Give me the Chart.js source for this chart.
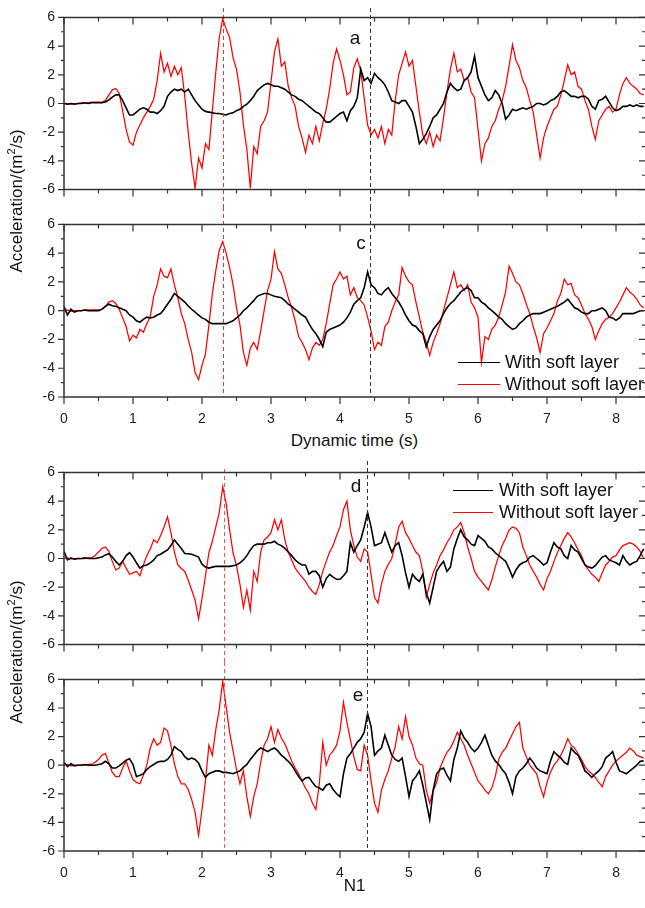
<!DOCTYPE html>
<html>
<head>
<meta charset="utf-8">
<script src="https://cdn.jsdelivr.net/npm/chart.js@4.4.0/dist/chart.umd.min.js"></script>
<style>
  body { margin: 0; background: #fff; width: 645px; height: 908px; overflow: hidden; position: relative;
         font-family: "Liberation Sans", Arial, sans-serif; color: #111; }
  canvas { position: absolute; left: 0; }
  .xt { position: absolute; left: 64px; width: 581px; text-align: center; font-size: 17px; line-height: 18px; }
  .yt { position: absolute; left: -83px; width: 200px; height: 20px; line-height: 20px; text-align: center;
        font-size: 17px; transform: rotate(-90deg); white-space: nowrap; }
  .yt sup { font-size: 11px; line-height: 0; }
</style>
</head>
<body>
<canvas id="pa" width="645" height="207" style="top:0px"></canvas>
<canvas id="pc" width="645" height="223" style="top:207px"></canvas>
<canvas id="pd" width="645" height="207" style="top:455px"></canvas>
<canvas id="pe" width="645" height="223" style="top:662px"></canvas>
<div class="yt" style="top:191px">Acceleration/(m<sup>2</sup>/s)</div>
<div class="yt" style="top:642px">Acceleration/(m<sup>2</sup>/s)</div>
<div class="xt" style="top:432px">Dynamic time (s)</div>
<div class="xt" style="top:877px">N1</div>
<script>
const STEP = 0.05;
const X_MAX = 8.42;
const xTicks = [0, 1, 2, 3, 4, 5, 6, 7, 8];
const yTicks = [-6, -4, -2, 0, 2, 4, 6];

// panel a
const withA = [
  0, -0.05, 0, -0.05, 0, 0, 0.05, 0, 0.05, 0.05,
  0.05, 0.05, 0.1, 0.25, 0.45, 0.6, 0.6, 0.2, -0.3, -0.8,
  -0.8, -0.6, -0.4, -0.3, -0.4, -0.6, -0.6, -0.7, -0.5, -0.2,
  0.5, 0.8, 1.0, 0.9, 1.0, 0.8, 1.0, 0.6, 0.2, -0.1,
  -0.4, -0.55, -0.6, -0.65, -0.7, -0.7, -0.75, -0.8, -0.7, -0.65,
  -0.5, -0.4, -0.2, -0.05, 0.2, 0.5, 0.9, 1.1, 1.3, 1.4,
  1.3, 1.2, 1.2, 1.1, 1.0, 0.8, 0.6, 0.5, 0.3, 0.2,
  0.0, -0.2, -0.4, -0.6, -0.7, -1.0, -1.3, -1.3, -1.1, -0.9,
  -0.7, -0.6, -1.2, -0.5, -0.2, 0.4, 2.4, 1.6, 1.8, 1.4,
  2.1, 1.8, 1.6, 1.3, 0.8, 0.2, 0.1, 0.0, 0.2, 0.2,
  -0.2, -0.6, -1.6, -2.8, -2.5, -2.1, -1.6, -1.0, -0.8, -0.4,
  0.0, 0.8, 1.4, 1.1, 0.9, 1.0, 1.6, 1.8, 2.2, 3.3,
  1.8, 1.2, 0.6, 0.2, 0.4, 0.9, 0.6, 0.0, -1.1, -0.8,
  -0.4, -0.5, -0.4, -0.3, -0.4, -0.3, -0.2, 0.0, 0.0, -0.1,
  0.0, 0.2, 0.3, 0.5, 0.8, 0.9, 0.7, 0.5, 0.5, 0.4,
  0.5, 0.5, 0.3, -0.2, -0.4, 0.2, 0.3, 0.5, 0.1, -0.3,
  -0.5, -0.4, -0.2, -0.2, -0.1, -0.2, -0.1, -0.2, -0.2
];
const withoutA = [
  0, 0, -0.05, 0, 0, 0.05, 0.05, 0.05, 0.1, 0.1,
  0.1, 0.1, 0.2, 0.6, 0.95, 1.05, 0.7, -0.5, -1.8, -2.7,
  -2.9, -2.0, -1.5, -1.0, -0.6, -0.2, 0.3, 1.6, 3.5, 2.2,
  2.8, 1.9, 2.6, 2.0, 2.5, 0.5, -2.0, -4.2, -5.9, -3.8,
  -4.5, -2.8, -3.2, -0.5, 2.2, 4.6, 5.9, 5.2, 4.6, 3.2,
  2.4, 0.8, -1.5, -3.2, -5.9, -3.0, -3.5, -1.6, -1.2, -0.6,
  1.5, 3.6, 4.5, 2.6, 2.9, 1.2, 0.4, -0.2, -1.6, -2.4,
  -3.4, -2.2, -2.8, -1.6, -2.6, -1.4, -0.4, 1.0, 2.8, 3.8,
  3.0, 2.0, 0.6, 0.8, 2.5, 3.1, 2.3, 0.4, -1.5, -2.2,
  -1.8, -2.4, -1.6, -2.8, -1.8, -2.2, 0.2, 2.0, 2.8, 3.6,
  2.6, 3.0, 1.2, -0.6, -2.2, -2.8, -2.0, -3.0, -2.2, -2.6,
  -1.0, 0.8, 2.4, 3.5, 2.2, 2.4, 1.6, 1.8, 0.8, 0.4,
  -1.8, -4.0, -2.8, -2.4, -1.6, -1.2, -0.4, 0.2, 1.2, 2.6,
  4.1, 3.0, 2.5, 1.6, 1.1, 0.2, -0.6, -2.2, -3.8, -2.4,
  -1.6, -1.0, -0.4, -0.2, 0.6, 1.6, 2.7, 2.0, 2.2, 1.2,
  1.0, 0.2, -0.4, -1.6, -2.5, -1.2, -0.8, -0.4, -0.2, -0.6,
  -0.4, 0.6, 1.4, 1.8, 1.4, 1.2, 1.0, 0.7, 0.6
];

// panel c
const withC = [
  0.3, -0.3, 0.1, -0.1, 0, 0, 0.05, 0, 0, 0,
  0, 0.1, 0.3, 0.45, 0.35, 0.3, 0.2, 0.1, 0, -0.3,
  -0.45, -0.7, -0.8, -0.6, -0.45, -0.5, -0.45, -0.3, -0.2, 0.1,
  0.45, 0.8, 1.2, 1.0, 0.8, 0.6, 0.33, 0.1, -0.1, -0.3,
  -0.5, -0.6, -0.8, -0.9, -0.9, -0.9, -0.9, -0.9, -0.8, -0.7,
  -0.5, -0.3, 0.0, 0.2, 0.45, 0.7, 1.0, 1.1, 1.2, 1.2,
  1.1, 1.0, 0.95, 0.9, 0.7, 0.45, 0.3, 0.1, -0.1, -0.3,
  -0.45, -0.9, -1.3, -1.6, -2.0, -2.5, -1.5, -1.3, -1.2, -1.1,
  -1.0, -0.8, -0.5, -0.1, 0.45, 0.7, 0.9, 1.6, 2.7, 1.8,
  1.6, 1.2, 1.1, 1.4, 1.6, 1.2, 0.9, 0.6, 0.2, -0.3,
  -0.7, -1.0, -1.1, -1.4, -1.6, -2.5, -1.8, -1.3, -1.0, -0.7,
  -0.2, 0.2, 0.5, 0.7, 1.0, 1.3, 1.5, 1.6, 1.4, 0.9,
  0.9, 0.6, 0.45, 0.2, 0.0, -0.2, -0.45, -0.6, -0.9, -1.1,
  -1.3, -1.2, -0.9, -0.7, -0.45, -0.3, -0.2, -0.2, -0.2, -0.1,
  0, 0.1, 0.2, 0.3, 0.45, 0.6, 0.8, 0.5, 0.2, 0.1,
  -0.1, -0.2, -0.2, 0, 0, 0.1, 0.2, 0, -0.45, -0.5,
  -0.67, -0.5, -0.2, -0.2, -0.2, -0.2, -0.1, 0, 0
];
const withoutC = [
  0, 0.05, -0.05, 0, 0, 0, 0.05, 0.05, 0.05, 0.05,
  0.05, 0.1, 0.3, 0.6, 0.7, 0.5, 0.1, -0.5, -1.1, -2.1,
  -1.7, -1.9, -1.3, -1.5, -0.9, -0.4, 1.0, 1.8, 2.9, 2.4,
  2.3, 2.9, 1.8, 0.9, -0.2, -0.9, -2.0, -2.9, -4.3, -4.8,
  -3.8, -3.0, -1.0, 1.2, 2.8, 4.2, 4.8, 4.0, 3.0, 1.8,
  0.2, -1.0, -2.9, -3.8, -2.6, -2.2, -2.7, -1.4, 0.0, 1.4,
  2.2, 4.1, 2.9, 2.6, 1.8, 0.9, 0.2, -0.7, -1.8, -2.2,
  -2.7, -3.4, -2.6, -2.2, -2.4, -2.0, -0.9, 0.45, 1.8, 2.2,
  2.7, 2.2, 2.4, 1.1, 1.6, 0.9, 0.7, 0.4, -0.45, -1.4,
  -2.7, -2.2, -2.4, -1.1, -0.8, 0.0, 0.6, 1.1, 3.0, 2.4,
  2.0, 1.8, 0.6, -0.45, -1.5, -2.2, -3.1, -2.2, -1.6, -0.9,
  0.0, 0.9, 1.8, 2.7, 1.6, 1.8, 1.4, 1.8, 0.6, 0.2,
  -0.45, -3.6, -1.8, -2.0, -1.3, -1.0, -0.45, 0.4, 1.3, 3.1,
  2.6, 2.0, 1.8, 1.2, 0.45, -0.2, -1.1, -1.9, -2.9, -1.6,
  -1.2, -0.7, -0.2, 0.67, 1.2, 2.2, 1.8, 1.9, 1.1, 0.9,
  0.4, -0.2, -0.6, -1.1, -2.0, -1.4, -0.9, -0.6, -0.45, -0.2,
  0.2, 0.6, 1.1, 1.6, 1.3, 1.1, 0.8, 0.4, 0.2
];

// panel d
const withD = [
  0.5, -0.1, 0.05, -0.05, 0, 0, 0.05, 0, 0, 0,
  0.05, 0.1, 0.25, 0.33, 0.1, -0.2, -0.45, -0.2, 0.2, 0.4,
  0.1, -0.3, -0.67, -0.5, -0.45, -0.3, -0.1, 0.2, 0.3, 0.45,
  0.6, 0.9, 1.3, 1.0, 0.7, 0.35, 0.33, 0.3, 0.2, 0.1,
  -0.4, -0.6, -0.67, -0.6, -0.55, -0.55, -0.55, -0.55, -0.55, -0.5,
  -0.45, -0.3, -0.1, 0.2, 0.6, 0.9, 1.0, 1.0, 1.0, 1.1,
  1.1, 1.2, 1.0, 0.9, 0.7, 0.45, 0.2, -0.1, -0.3, -0.45,
  -0.45, -1.1, -0.9, -0.9, -1.2, -2.0, -1.4, -1.1, -1.3, -1.45,
  -1.45, -1.2, -0.9, 1.1, 0.45, 0.9, 1.3, 2.2, 3.2, 2.2,
  0.9, 1.0, 1.1, 1.8, 1.1, 0.45, 0.9, 1.1, 0.2, -1.0,
  -2.0, -1.1, -1.4, -1.6, -1.1, -2.4, -3.1, -2.0, -0.9, -0.5,
  -0.2, -0.9, -0.6, 0.67, 1.4, 2.0, 1.5, 1.3, 1.0, 0.9,
  1.6, 1.4, 1.2, 0.8, 0.67, 0.4, 0.2, 0, -0.2, -0.7,
  -1.3, -0.8, -0.45, -0.3, -0.2, 0.1, 0.2, 0.0, -0.2, -0.45,
  -0.3, 0.45, 1.1, 0.8, 0.67, 0.2, 0.0, 0.9, 0.6, 0.45,
  0.0, -0.45, -0.6, -0.67, -0.5, -0.2, 0.1, 0.2, -0.1, -0.2,
  -0.3, -0.45, 0.2, -0.2, -0.45, -0.3, -0.2, 0.2, 0.67
];
const withoutD = [
  0, 0.05, -0.05, 0, 0, 0, 0, 0.05, 0.05, 0.2,
  0.45, 0.7, 0.8, 0.5, -0.2, -0.8, -0.67, -0.2, -0.67, -1.1,
  -1.0, -0.9, -1.2, -0.45, 0.2, 0.67, 1.3, 1.1, 1.6, 2.2,
  2.9, 1.8, 0.45, -0.45, -0.7, -0.9, -1.5, -2.2, -2.9, -4.2,
  -2.8, -1.2, 0.4, 1.2, 2.2, 3.2, 5.0, 3.8, 2.0, 0.4,
  -0.5, -1.8, -3.4, -2.2, -3.6, -0.9, -1.6, 0.45, 1.3, 1.5,
  1.8, 2.7, 2.0, 2.7, 1.3, 0.45, -0.1, -0.67, -1.0, -1.3,
  -1.6, -2.0, -2.3, -2.5, -1.8, -0.9, -0.2, 0.45, 0.9, 1.6,
  2.2, 3.4, 4.0, 2.0, 0.9, 0.1, -0.2, 0.67, 0.45, -1.1,
  -2.7, -3.1, -1.8, -0.9, -0.4, 0.0, 1.0, 2.2, 2.6, 1.8,
  1.4, 0.9, 0.45, 0.2, -0.9, -2.7, -1.8, -1.0, -0.45, 0.2,
  0.6, 1.1, 1.5, 2.0, 2.2, 2.5, 1.8, 0.8, 0.0, -0.9,
  -1.3, -1.6, -1.9, -2.2, -1.5, -0.6, 0.2, 0.9, 1.4, 2.0,
  2.2, 2.1, 1.8, 0.8, 0.2, -0.45, -0.9, -1.3, -1.8, -2.2,
  -1.4, -0.9, -0.2, 0.4, 0.9, 1.4, 1.8, 1.5, 1.1, 0.6,
  0.2, -0.45, -0.8, -1.1, -1.3, -1.6, -1.0, -0.45, -0.2, 0.1,
  0.2, 0.6, 0.9, 1.0, 1.1, 1.0, 0.8, 0.5, 0.0
];

// panel e
const withE = [
  0.2, -0.1, 0.1, -0.05, 0, 0, 0.05, 0, 0, 0,
  0.05, 0.1, 0.27, 0.1, -0.2, -0.2, -0.05, 0.15, 0.35, 0.45,
  0.05, -0.8, -0.7, -0.6, -0.3, -0.1, 0.05, 0.2, 0.27, 0.27,
  0.4, 0.7, 1.3, 1.1, 0.95, 0.6, 0.4, 0.5, 0.4, 0.15,
  -0.4, -0.85, -0.6, -0.5, -0.4, -0.4, -0.5, -0.5, -0.55, -0.6,
  -0.5, -0.4, -0.15, 0.05, 0.4, 0.7, 1.0, 1.2, 1.1, 0.95,
  1.1, 1.2, 1.0, 0.7, 0.5, 0.27, 0.0, -0.4, -0.8, -1.1,
  -0.9, -0.85, -1.2, -1.5, -1.6, -1.75, -1.4, -1.3, -1.7, -2.0,
  -2.2, -0.6, 0.5, 0.8, 1.2, 1.6, 1.85, 2.3, 3.6, 2.7,
  0.7, 1.0, 1.2, 2.1, 1.4, 0.7, 0.4, 0.27, 0.5, -0.8,
  -2.2, -1.1, -0.8, -0.4, -1.4, -2.6, -3.8, -1.75, -0.6, -0.3,
  -0.2, -0.7, -1.1, 0.4, 1.2, 2.4, 1.9, 1.6, 1.2, 0.95,
  1.2, 1.6, 2.1, 1.4, 0.7, 0.3, 0.05, -0.3, -0.6, -1.2,
  -2.0, -0.8, -0.4, -0.2, 0.1, 0.5, 0.2, -0.2, -0.4, -0.5,
  -0.6, 0.3, 0.95, 0.7, 0.5, 0.2, 0.05, 1.2, 0.9, 0.7,
  0.2, -0.4, -0.6, -0.85, -0.6, -0.4, -0.1, 0.5, 0.7, 0.95,
  0.2, -0.4, -0.5, -0.6, -0.4, -0.2, 0.0, 0.27, 0.3
];
const withoutE = [
  0, 0.05, -0.05, 0, 0, 0, 0, 0.05, 0.05, 0.2,
  0.4, 0.7, 0.83, 0.15, -0.5, -0.8, -0.8, -0.2, 0.3, -0.4,
  -1.0, -1.2, -1.3, -0.7, 0.0, 1.2, 1.85, 1.4, 1.6, 2.6,
  2.4, 1.4, 0.1, -0.8, -1.3, -1.3, -1.7, -2.4, -3.3, -4.9,
  -3.1, -1.1, 1.4, 0.7, 2.5, 3.9, 5.9, 4.1, 2.3, 1.0,
  -0.3, -1.3, -0.4, -2.2, -3.6, -2.2, -1.3, 0.2, 1.4, 1.85,
  2.7, 1.6, 2.5, 1.9, 1.5, 0.9, 0.3, -0.2, -0.6, -1.1,
  -1.6, -2.0, -2.65, -3.1, -1.3, 1.6, 0.0, 0.7, 1.0, 1.4,
  2.4, 4.4, 3.0, 1.8, 0.6, -0.3, -0.4, 1.4, 0.7, -1.1,
  -2.65, -3.3, -1.75, -1.0, -0.4, 0.5, 1.3, 2.7, 1.85, 3.4,
  2.0, 1.4, 0.5, 0.1, 0.0, -1.75, -2.65, -1.8, -1.2, -0.2,
  0.4, 0.9, 1.2, 1.7, 2.3, 1.85, 1.4, 0.7, 0.1, -0.5,
  -1.1, -1.4, -1.75, -2.0, -1.6, -0.8, 0.4, 0.9, 1.2, 1.7,
  2.2, 2.7, 3.0, 1.2, 0.6, 0.0, -0.3, -0.6, -1.5, -2.2,
  -1.2, -0.5, 0.0, 0.3, 0.7, 1.2, 1.85, 1.4, 1.2, 0.8,
  0.4, -0.1, -0.4, -0.6, -0.85, -1.2, -1.5, -0.8, -0.4, 0.0,
  0.3, 0.5, 0.7, 0.9, 1.2, 1.0, 0.7, 0.6, 0.5
];

const FRAME = '#333';
const RED = '#ff0000';
const tickFont = { family: '"Liberation Sans", Arial, sans-serif', size: 14 };

const toPoints = (vals) => vals.map((v, i) => ({ x: +(i * STEP).toFixed(2), y: v }));

function makePanel(id, withVals, withoutVals, o) {
  const decor = {
    id: 'decor',
    afterDatasetsDraw(chart) {
      const { ctx, chartArea: a, scales: { x, y } } = chart;
      ctx.save();
      // dashed markers
      ctx.lineWidth = 1;
      ctx.setLineDash([4, 3]);
      o.marks.forEach((m) => {
        const px = Math.round(x.getPixelForValue(m.t)) + 0.5;
        ctx.strokeStyle = m.color;
        ctx.beginPath();
        ctx.moveTo(px, m.from);
        ctx.lineTo(px, m.to === 'bottom' ? a.bottom : chart.height);
        ctx.stroke();
      });
      ctx.setLineDash([]);

      // frame
      ctx.strokeStyle = FRAME;
      ctx.lineWidth = 1.5;
      ctx.beginPath();
      ctx.moveTo(a.right + 2, a.top);
      ctx.lineTo(a.left, a.top);
      ctx.lineTo(a.left, a.bottom);
      ctx.lineTo(a.right + 2, a.bottom);
      ctx.stroke();

      // ticks
      ctx.lineWidth = 1.2;
      ctx.beginPath();
      for (let v = yTicks[0]; v <= yTicks[yTicks.length - 1]; v++) {
        const py = y.getPixelForValue(v);
        const len = v % 2 === 0 ? 6 : 3;
        ctx.moveTo(a.left - len, py); ctx.lineTo(a.left, py);
        ctx.moveTo(a.right, py); ctx.lineTo(a.right - len, py);
      }
      for (let v = 0; v <= X_MAX; v += 0.5) {
        const px = x.getPixelForValue(v);
        const len = v % 1 === 0 ? 7 : 4;
        ctx.moveTo(px, a.top); ctx.lineTo(px, a.top + len);
        ctx.moveTo(px, a.bottom); ctx.lineTo(px, a.bottom + len);
      }
      ctx.stroke();

      // panel letter
      ctx.fillStyle = '#111';
      ctx.font = '19px "Liberation Sans", Arial, sans-serif';
      ctx.textAlign = 'center';
      ctx.textBaseline = 'middle';
      ctx.fillText(o.letter, o.letterX, o.letterY);

      // legend
      if (o.legend) {
        const L = o.legend;
        ctx.font = '18px "Liberation Sans", Arial, sans-serif';
        ctx.textAlign = 'left';
        [['With soft layer', '#000', L.y1], ['Without soft layer', RED, L.y2]].forEach(([txt, col, ly]) => {
          ctx.strokeStyle = col;
          ctx.lineWidth = 1.2;
          ctx.beginPath();
          ctx.moveTo(L.x0, ly + 0.5); ctx.lineTo(L.x1, ly + 0.5);
          ctx.stroke();
          ctx.fillStyle = '#111';
          ctx.fillText(txt, L.tx, ly + 1);
        });
      }
      ctx.restore();
    }
  };

  return new Chart(document.getElementById(id), {
    type: 'line',
    data: {
      datasets: [
        { label: 'With soft layer', data: toPoints(withVals), borderColor: '#000', borderWidth: 1.6 },
        { label: 'Without soft layer', data: toPoints(withoutVals), borderColor: RED, borderWidth: 1.25 }
      ]
    },
    options: {
      responsive: false,
      animation: false,
      events: [],
      layout: { padding: { top: o.top, bottom: o.bottom, left: 0, right: 0 } },
      elements: { point: { radius: 0 }, line: { tension: 0 } },
      plugins: { legend: { display: false }, tooltip: { enabled: false } },
      scales: {
        x: {
          type: 'linear', min: 0, max: X_MAX,
          display: o.xLabels,
          grid: { display: false, drawTicks: false },
          border: { display: false },
          ticks: { font: tickFont, color: '#222', padding: 14, maxRotation: 0 },
          afterBuildTicks: (s) => { s.ticks = xTicks.map((v) => ({ value: v })); },
          afterFit: (s) => { s.height = o.axisH || 0; }
        },
        y: {
          min: -6, max: 6,
          grid: { display: false, drawTicks: false },
          border: { display: false },
          ticks: { font: tickFont, color: '#222', padding: 9 },
          afterBuildTicks: (s) => { s.ticks = yTicks.map((v) => ({ value: v })); },
          afterFit: (s) => { s.width = 64; }
        }
      }
    },
    plugins: [decor]
  });
}

makePanel('pa', withA, withoutA, {
  top: 14, bottom: 14, xLabels: false,
  letter: 'a', letterX: 355, letterY: 39,
  marks: [{ t: 2.30, color: '#e33', from: 8 }, { t: 4.44, color: '#333', from: 8 }]
});
makePanel('pc', withC, withoutC, {
  top: 11, bottom: 0, xLabels: true, axisH: 33,
  letter: 'c', letterX: 361, letterY: 37,
  marks: [{ t: 2.30, color: '#e33', from: 0, to: 'bottom' }, { t: 4.44, color: '#333', from: 0, to: 'bottom' }],
  legend: { x0: 458, x1: 500, tx: 505, y1: 155, y2: 177 }
});
makePanel('pd', withD, withoutD, {
  top: 13, bottom: 15, xLabels: false,
  letter: 'd', letterX: 356, letterY: 32,
  marks: [{ t: 2.32, color: '#e55', from: 14 }, { t: 4.39, color: '#333', from: 6 }],
  legend: { x0: 453, x1: 493, tx: 499, y1: 35, y2: 57 }
});
makePanel('pe', withE, withoutE, {
  top: 11, bottom: 0, xLabels: true, axisH: 34,
  letter: 'e', letterX: 358, letterY: 34,
  marks: [{ t: 2.32, color: '#e55', from: 0, to: 'bottom' }, { t: 4.39, color: '#333', from: 0, to: 'bottom' }]
});
</script>
</body>
</html>
